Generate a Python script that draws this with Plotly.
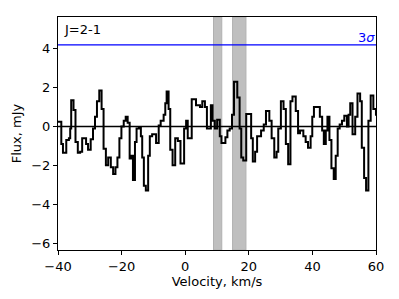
import plotly.graph_objects as go

# channel left edges (km/s) and flux values (mJy)
velocity = [-40.0, -38.96, -38.44, -37.40, -36.57, -36.16, -35.85, -35.12, -34.50, -33.77,
            -33.04, -32.4, -31.17, -30.55, -29.72, -28.99, -28.37, -27.75, -27.02, -26.29,
            -25.67, -24.94, -24.22, -23.39, -22.66, -21.93, -21.31, -20.69, -20.06, -19.33,
            -18.71, -18.09, -17.47, -16.95, -16.43, -15.80, -15.29, -14.56, -13.94, -13.52,
            -13.00, -12.38, -11.65, -11.13, -10.40, -9.16, -8.33, -7.71, -6.78, -6.26,
            -5.84, -5.22, -4.70, -3.97, -3.14, -2.31, -1.48, -0.34, 0.29, 0.80,
            2.05, 3.40, 4.65, 5.37, 6.20, 6.83, 8.07, 8.59, 9.32, 10.05,
            10.88, 11.40, 12.64, 13.27, 13.99, 14.72, 15.34, 16.38, 17.11, 17.63,
            18.25, 19.19, 20.74, 21.26, 21.99, 22.61, 23.86, 24.70, 25.40, 26.46,
            27.18, 28.01, 28.74, 29.26, 30.09, 30.92, 31.65, 32.38, 33.10, 33.73,
            34.76, 35.49, 36.11, 37.15, 37.88, 38.61, 39.44, 39.96, 40.48, 42.34,
            43.07, 43.59, 44.21, 44.73, 45.36, 45.98, 46.71, 47.33, 47.95, 48.58,
            49.30, 50.03, 50.86, 51.38, 51.90, 52.62, 53.46, 54.18, 55.01, 55.53,
            56.26, 56.88, 57.61, 58.33, 59.16, 59.99, 60.4]
flux = [0.25, -0.9, -1.35, -0.7, -0.6, -0.1, 1.35, 0.85, -0.8, -1.35,
        -1.3, -0.6, -0.9, -1.2, -0.65, -0.1, 0.5, 1.3, 1.85, 0.9,
        -1.15, -2.0, -1.6, -2.1, -2.45, -2.1, -1.6, -0.6, 0.0, 0.3,
        0.5, 0.2, -1.65, -1.5, -2.75, -0.8, -0.1, -0.05, -0.5, -1.6,
        -3.05, -3.3, -1.5, -0.5, -0.4, -0.85, 0.05, 0.3, 0.6, 1.2,
        1.8, 0.9, -1.2, -2.0, -0.6, -0.75, -1.9, -0.1, 0.3, -0.6,
        1.4, 1.1, 1.0, 1.3, 1.0, -0.1, 1.1, 0.3, -0.1, 0.35,
        -0.5, -0.85, -0.55, -0.2, -0.1, 0.6, 2.3, 1.5, -0.1, -1.6,
        -1.75, 0.65, -0.6, -1.8, -1.3, -0.5, -0.2, 0.1, 0.8, 0.3,
        -0.6, -1.6, -1.3, -0.1, 1.3, 0.9, -0.9, -1.95, 1.3, 1.55,
        0.8, -0.35, -0.2, -0.5, -0.8, -1.1, -0.5, 0.5, 1.0, 0.5,
        -0.2, -0.9, -0.2, 0.5, -0.7, -2.15, -2.7, -1.5, -0.1, 0.1,
        0.3, 0.55, 0.0, 0.6, 1.2, -0.4, 0.5, 1.7, 1.3, -1.1,
        -2.65, -3.3, 0.3, 1.6, 0.9, 0.6, 0.6]

sigma3 = 4.2
band_start = [8.9, 14.9]
band_end = [11.5, 19.1]
x_ticks = [-40, -20, 0, 20, 40, 60]
y_ticks = [-6, -4, -2, 0, 2, 4]

font = "DejaVu Sans"
fig = go.Figure()

for a, b in zip(band_start, band_end):
    fig.add_vrect(x0=a, x1=b, fillcolor="#bfbfbf", line=dict(color="#b0b0b0", width=1),
                  layer="below", opacity=1)

fig.add_trace(go.Scatter(x=velocity, y=flux, mode="lines", line_shape="hv",
                         line=dict(color="black", width=2), showlegend=False))

fig.add_hline(y=0, line=dict(color="black", width=1.3))
fig.add_hline(y=sigma3, line=dict(color="blue", width=1.3))

fig.add_annotation(x=1, xref="paper", y=sigma3, yref="y", text="3<i>σ</i>",
                   showarrow=False, xanchor="right", yanchor="bottom",
                   font=dict(family=font, size=13, color="blue"), yshift=-2, xshift=1)
fig.add_annotation(x=0.012, xref="paper", y=0.985, yref="paper", text="J=2-1",
                   showarrow=False, xanchor="left", yanchor="top",
                   font=dict(family=font, size=13, color="black"))

axis_common = dict(showgrid=False, zeroline=False, showline=True, linecolor="black",
                   linewidth=1, mirror=True, ticks="outside", ticklen=4, tickcolor="black",
                   tickfont=dict(family=font, size=13, color="black"))

fig.update_xaxes(range=[-40, 60], tickvals=x_ticks,
                 title=dict(text="Velocity, km/s", font=dict(family=font, size=13, color="black"), standoff=4),
                 **axis_common)
fig.update_yaxes(range=[-6.36, 5.64], tickvals=y_ticks,
                 title=dict(text="Flux, mJy", font=dict(family=font, size=13, color="black"), standoff=6),
                 **axis_common)

fig.update_layout(width=391, height=291, margin=dict(l=47, r=23, t=8, b=49),
                  plot_bgcolor="white", paper_bgcolor="white")

fig.write_html("out.html")
